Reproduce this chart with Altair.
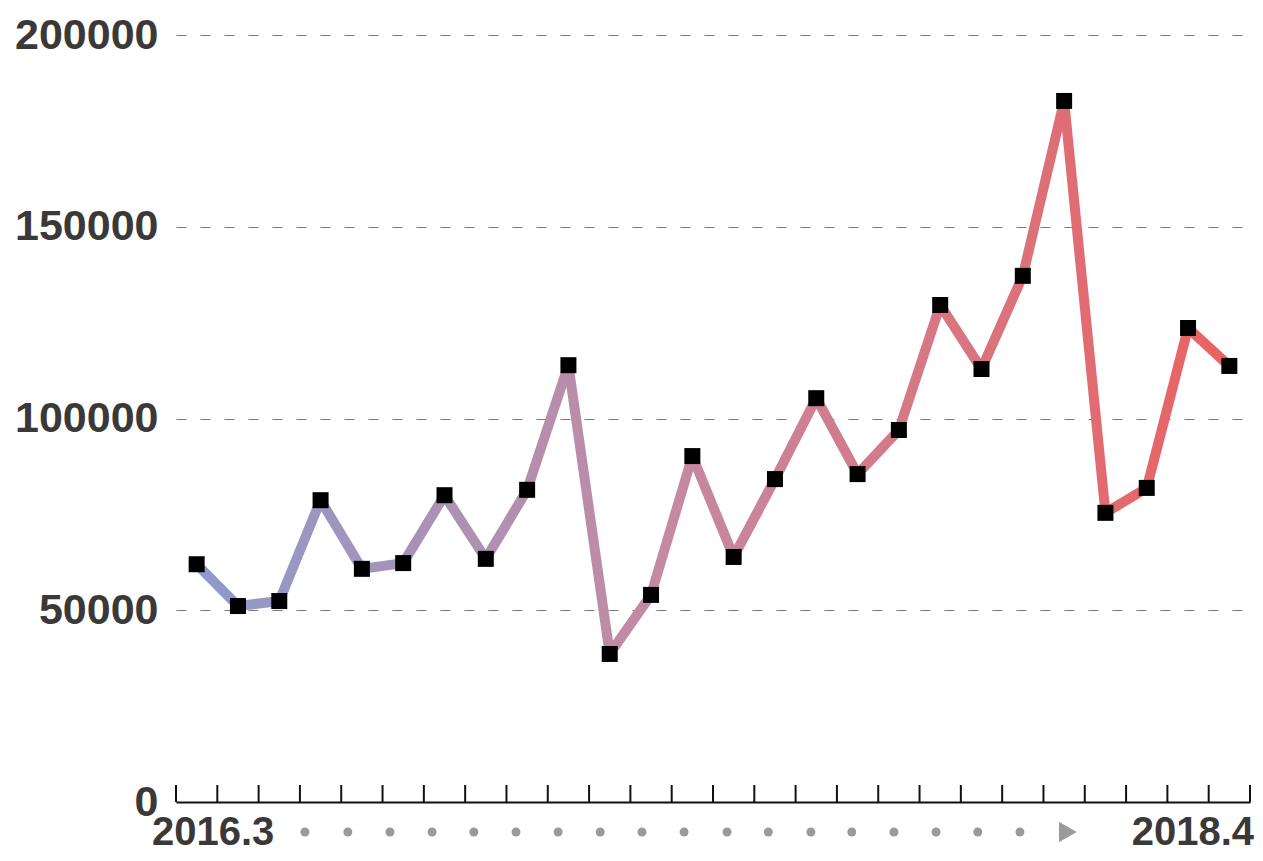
import altair as alt
import pandas as pd

# Monthly values, 2016.3 .. 2018.4
months = ["2016.3", "2016.4", "2016.5", "2016.6", "2016.7", "2016.8", "2016.9", "2016.10",
          "2016.11", "2016.12", "2017.1", "2017.2", "2017.3", "2017.4", "2017.5", "2017.6",
          "2017.7", "2017.8", "2017.9", "2017.10", "2017.11", "2017.12", "2018.1", "2018.2",
          "2018.3", "2018.4"]
values = [62000, 51100, 52400, 78700, 60800, 62300, 80000, 63400, 81400, 113900,
          38600, 54000, 90200, 63900, 84200, 105300, 85500, 97000, 129600, 112900,
          137200, 182800, 75400, 81900, 123600, 113700]
y_ticks = [0, 50000, 100000, 150000, 200000]
end_labels = ["2016.3", "2018.4"]

# decorative dotted arrow positions (in month-index units)
dot_pos = [2.62, 3.66, 4.68, 5.70, 6.71, 7.73, 8.75, 9.77, 10.78, 11.80, 12.84,
           13.84, 14.87, 15.86, 16.88, 17.90, 18.91, 19.93]
arrow_pos = [21.09]

W, H = 1074, 767
n = len(values)

df = pd.DataFrame({"idx": list(range(n)), "month": months, "value": values})
bounds = pd.DataFrame({"b": [i - 0.5 for i in range(n + 1)]})
dots = pd.DataFrame({"p": dot_pos})
arrow = pd.DataFrame({"p": arrow_pos})
lab_left = pd.DataFrame({"p": [-0.5], "t": [end_labels[0]]})
lab_right = pd.DataFrame({"p": [n - 0.5], "t": [end_labels[1]]})

xscale = alt.Scale(domain=[-0.5, n - 0.5], nice=False, zero=False)
yscale = alt.Scale(domain=[0, 200000], nice=False)

FONT = "Liberation Sans"
LABEL_COLOR = "#3b3838"

x_main = alt.X("idx:Q", scale=xscale,
               axis=alt.Axis(title=None, labels=False, ticks=False, grid=False,
                             domain=True, domainColor="#111111", domainWidth=2))
y_main = alt.Y("value:Q", scale=yscale,
               axis=alt.Axis(title=None, values=y_ticks, format="d", domain=False, ticks=False,
                             grid=True, gridColor="#7a7a7a", gridDash=[10, 14], gridWidth=1,
                             labelFont=FONT, labelFontSize=43, labelFontWeight="bold",
                             labelColor=LABEL_COLOR, labelPadding=18))

line = alt.Chart(df).mark_line(
    strokeWidth=10, strokeJoin="round",
    stroke=alt.Gradient(gradient="linear", x1=0, x2=1, y1=0, y2=0,
                        stops=[alt.GradientStop(color="#8e9acb", offset=0),
                               alt.GradientStop(color="#c48aa2", offset=0.45),
                               alt.GradientStop(color="#ea6262", offset=1)]),
).encode(x=x_main, y=y_main)

points = alt.Chart(df).mark_square(size=256, color="#000000", opacity=1, filled=True).encode(
    x=alt.X("idx:Q", scale=xscale), y=alt.Y("value:Q", scale=yscale))

ticks = alt.Chart(bounds).mark_rule(color="#111111", strokeWidth=2).encode(
    x=alt.X("b:Q", scale=xscale), y=alt.value(H - 17), y2=alt.value(H))

dot_layer = alt.Chart(dots).mark_circle(size=80, color="#9a9a9a", opacity=1).encode(
    x=alt.X("p:Q", scale=xscale), y=alt.value(H + 30))

arrow_layer = alt.Chart(arrow).mark_point(shape="triangle-right", size=420, filled=True,
                                          color="#9a9a9a", opacity=1).encode(
    x=alt.X("p:Q", scale=xscale), y=alt.value(H + 30))

text_l = alt.Chart(lab_left).mark_text(align="left", baseline="alphabetic", dx=-24,
                                       font=FONT, fontSize=40, fontWeight="bold",
                                       color=LABEL_COLOR).encode(
    x=alt.X("p:Q", scale=xscale), y=alt.value(H + 43), text="t:N")

text_r = alt.Chart(lab_right).mark_text(align="right", baseline="alphabetic", dx=4,
                                        font=FONT, fontSize=40, fontWeight="bold",
                                        color=LABEL_COLOR).encode(
    x=alt.X("p:Q", scale=xscale), y=alt.value(H + 43), text="t:N")

chart = alt.layer(line, ticks, points, dot_layer, arrow_layer, text_l, text_r).properties(
    width=W, height=H,
    autosize=alt.AutoSizeParams(type="none"),
    padding={"left": 168, "top": 27, "right": 5, "bottom": 51},
).configure_view(stroke=None)

chart.save("out.html", embed_options={"renderer": "svg", "actions": False})
